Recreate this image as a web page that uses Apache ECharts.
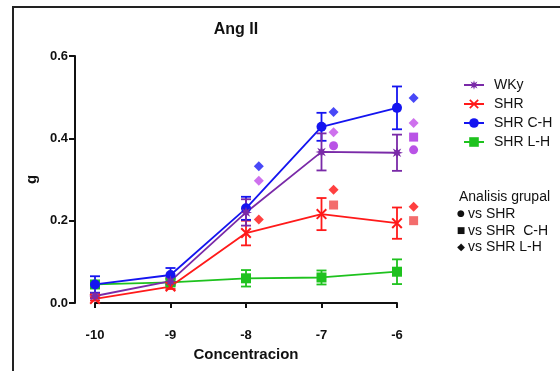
<!DOCTYPE html>
<html><head><meta charset="utf-8">
<script src="https://cdn.jsdelivr.net/npm/echarts@6/dist/echarts.min.js"></script>
<style>html,body{margin:0;padding:0;background:#fff}#c{width:560px;height:371px}</style>
</head><body><div id="c"></div>
<script>
const concentrations = [-10, -9, -8, -7, -6];
const xTicks = ['-10', '-9', '-8', '-7', '-6'];
const yTicks = [0.0, 0.2, 0.4, 0.6];
const seriesNames = ['WKy', 'SHR', 'SHR C-H', 'SHR L-H'];
const wkyMean = [0.017, 0.053, 0.220, 0.367, 0.365];
const wkyErr  = [0.006, 0.008, 0.032, 0.045, 0.044];
const shrMean = [0.010, 0.040, 0.170, 0.216, 0.194];
const shrErr  = [0.004, 0.006, 0.030, 0.039, 0.038];
const chMean  = [0.045, 0.068, 0.230, 0.428, 0.474];
const chErr   = [0.020, 0.017, 0.028, 0.034, 0.052];
const lhMean  = [0.045, 0.050, 0.060, 0.062, 0.076];
const lhErr   = [0.006, 0.008, 0.020, 0.017, 0.030];
// significance markers: [concentration, value]
const sigBlueDiamond   = [[-8, 0.332], [-7, 0.464], [-6, 0.498]];
const sigPurpleDiamond = [[-8, 0.297], [-7, 0.415], [-6, 0.437]];
const sigPurpleCircle  = [[-7, 0.382], [-6, 0.372]];
const sigPurpleSquare  = [[-6, 0.403]];
const sigRedDiamond    = [[-8, 0.203], [-7, 0.275], [-6, 0.234]];
const sigRedSquare     = [[-7, 0.238], [-6, 0.200]];
const legend2Title = 'Analisis grupal';
const legend2Symbols = ['\u25CF', '\u25A0', '\u25C6'];
const legend2Labels = ['vs SHR', 'vs SHR  C-H', 'vs SHR L-H'];

const C_WKY = '#7a2aa8', C_SHR = '#ff1a1a', C_CH = '#1414f0', C_LH = '#1ec21e';
const font = '"Liberation Sans", Arial, sans-serif';

function starPath() {
  let s = 'path://';
  for (let i = 0; i < 16; i++) {
    const r = i % 2 === 0 ? 10 : 4.5;
    const a = -Math.PI / 2 + i * Math.PI / 8;
    s += (i === 0 ? 'M' : 'L') + (10 + r * Math.cos(a)).toFixed(2) + ',' + (10 + r * Math.sin(a)).toFixed(2) + ' ';
  }
  return s + 'Z';
}
const xPath = 'path://M0,1.3 L1.3,0 L5,3.7 L8.7,0 L10,1.3 L6.3,5 L10,8.7 L8.7,10 L5,6.3 L1.3,10 L0,8.7 L3.7,5 Z';

function zip(m) { return concentrations.map((c, i) => [c, m[i]]); }
function zipErr(m, e) { return concentrations.map((c, i) => [c, m[i], e[i]]); }

function errSeries(name, color, m, e) {
  return {
    type: 'custom', name: name + '_err', silent: true, clip: false, z: 3,
    data: zipErr(m, e),
    encode: { x: 0, y: 1 },
    renderItem: function (params, api) {
      const x = api.value(0), v = api.value(1), er = api.value(2);
      const top = api.coord([x, v + er]), bot = api.coord([x, v - er]);
      const hw = 5;
      const st = { stroke: color, lineWidth: 1.8 };
      return { type: 'group', children: [
        { type: 'line', shape: { x1: top[0], y1: top[1], x2: bot[0], y2: bot[1] }, style: st },
        { type: 'line', shape: { x1: top[0] - hw, y1: top[1], x2: top[0] + hw, y2: top[1] }, style: st },
        { type: 'line', shape: { x1: bot[0] - hw, y1: bot[1], x2: bot[0] + hw, y2: bot[1] }, style: st }
      ]};
    }
  };
}
function lineSeries(name, color, m, symbol, size) {
  return {
    type: 'line', name: name, data: zip(m), symbol: symbol, symbolSize: size,
    lineStyle: { color: color, width: 1.8 }, itemStyle: { color: color }, z: 4
  };
}
const sigOffset = { '-8': 0.17, '-7': 0.16, '-6': 0.22 };
function sigSeries(data, color, symbol, size) {
  return {
    type: 'scatter', clip: false, symbol: symbol, symbolSize: size, z: 5,
    data: data.map(d => [d[0] + sigOffset[String(d[0])], d[1]]),
    itemStyle: { color: color }
  };
}

const g2 = [
  { type: 'text', x: 459, y: 197, style: { text: legend2Title, font: '14px ' + font, fill: '#111', textVerticalAlign: 'middle' } }
];
const rowsY = [214, 231, 247];
const symSize = [9, 9, 10];
legend2Labels.forEach((t, i) => {
  g2.push({ type: 'text', x: 461, y: rowsY[i], style: { text: legend2Symbols[i], font: symSize[i] + 'px "DejaVu Sans", sans-serif', fill: '#111', textAlign: 'center', textVerticalAlign: 'middle' } });
  g2.push({ type: 'text', x: 468, y: rowsY[i], style: { text: t, font: '14px ' + font, fill: '#111', textVerticalAlign: 'middle' } });
});

const chart = echarts.init(document.getElementById('c'), null, { renderer: 'canvas' });
chart.setOption({
  animation: false,
  backgroundColor: '#fff',
  grid: { left: 95, right: 163, top: 56, bottom: 68 },
  xAxis: {
    type: 'value', min: -10, max: -6, interval: 1, offset: 19,
    axisLine: { lineStyle: { color: '#111', width: 2 } },
    axisTick: { show: true, length: 5, lineStyle: { color: '#111', width: 2 } },
    axisLabel: { color: '#111', fontWeight: 'bold', fontSize: 13, fontFamily: font, margin: 7,
      formatter: v => xTicks[concentrations.indexOf(v)] },
    splitLine: { show: false },
    name: 'Concentracion', nameLocation: 'middle', nameGap: 24,
    nameTextStyle: { color: '#111', fontWeight: 'bold', fontSize: 15, fontFamily: font }
  },
  yAxis: {
    type: 'value', min: 0, max: 0.6, interval: 0.2, offset: 20,
    axisLine: { show: true, lineStyle: { color: '#111', width: 2 } },
    axisTick: { show: true, length: 6, lineStyle: { color: '#111', width: 2 } },
    axisLabel: { color: '#111', fontWeight: 'bold', fontSize: 13, fontFamily: font, margin: 7,
      formatter: v => yTicks.find(t => Math.abs(t - v) < 1e-9).toFixed(1) },
    splitLine: { show: false },
    name: 'g', nameLocation: 'middle', nameGap: 36, nameRotate: 90,
    nameTextStyle: { color: '#111', fontWeight: 'bold', fontSize: 15, fontFamily: font }
  },
  legend: {
    data: seriesNames, orient: 'vertical', left: 458, top: 73, itemGap: 5,
    itemWidth: 20, itemHeight: 12,
    textStyle: { color: '#111', fontSize: 14, fontFamily: font, padding: [0, 0, 0, 5] }
  },
  graphic: [
    { type: 'rect', shape: { x: 13, y: 7, width: 600, height: 400 }, style: { fill: 'none', stroke: '#222', lineWidth: 2 }, silent: true },
    { type: 'text', x: 236, y: 30, style: { text: 'Ang II', font: 'bold 16px ' + font, fill: '#111', textAlign: 'center', textVerticalAlign: 'middle' } }
  ].concat(g2),
  series: [
    errSeries('SHR L-H', C_LH, lhMean, lhErr),
    lineSeries('SHR L-H', C_LH, lhMean, 'rect', 10),
    errSeries('SHR', C_SHR, shrMean, shrErr),
    lineSeries('SHR', C_SHR, shrMean, xPath, 11),
    errSeries('SHR C-H', C_CH, chMean, chErr),
    lineSeries('SHR C-H', C_CH, chMean, 'circle', 10),
    errSeries('WKy', C_WKY, wkyMean, wkyErr),
    lineSeries('WKy', C_WKY, wkyMean, starPath(), 12),
    sigSeries(sigBlueDiamond, '#1a1af5', 'diamond', 10),
    sigSeries(sigPurpleDiamond, '#c24ee8', 'diamond', 10),
    sigSeries(sigPurpleCircle, '#a828e0', 'circle', 9),
    sigSeries(sigPurpleSquare, '#a828e0', 'rect', 9),
    sigSeries(sigRedDiamond, '#ff1010', 'diamond', 10),
    sigSeries(sigRedSquare, '#f04848', 'rect', 9)
  ]
});
</script>
</body></html>
